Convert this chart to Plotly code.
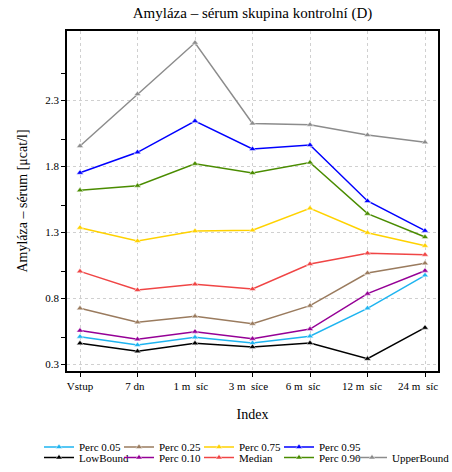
import plotly.graph_objects as go

NB = "\u00a0"
categories = ["Vstup", "7 dn" + NB * 2, "1 m" + NB + " síc" + NB * 3, "3 m" + NB + " síce" + NB * 3,
              "6 m" + NB + " síc" + NB * 5, "12 m" + NB + " síc" + NB * 4, "24 m" + NB + " síc" + NB * 5]
y_tick_vals = [0.3, 0.8, 1.3, 1.8, 2.3]
y_minor_vals = [0.5, 1.0, 1.5, 2.0, 2.5]

perc_005 = [0.507, 0.444, 0.502, 0.459, 0.510, 0.722, 0.972]
low_bound = [0.457, 0.396, 0.457, 0.429, 0.459, 0.340, 0.575]
perc_025 = [0.722, 0.616, 0.661, 0.605, 0.742, 0.989, 1.063]
perc_010 = [0.553, 0.487, 0.545, 0.492, 0.565, 0.833, 1.007]
perc_075 = [1.333, 1.232, 1.308, 1.313, 1.480, 1.295, 1.196]
median = [1.002, 0.861, 0.904, 0.868, 1.058, 1.139, 1.128]
perc_095 = [1.749, 1.904, 2.141, 1.929, 1.959, 1.535, 1.310]
perc_090 = [1.616, 1.651, 1.817, 1.747, 1.827, 1.439, 1.262]
upper_bound = [1.952, 2.345, 2.734, 2.123, 2.113, 2.035, 1.980]

# name, values, colour, legend column, legend row
series = [
    ("Perc 0.05", perc_005, "#1EB4F0", 0, 0),
    ("Perc 0.25", perc_025, "#9A7B5E", 1, 0),
    ("Perc 0.75", perc_075, "#FFD200", 2, 0),
    ("Perc 0.95", perc_095, "#0000FF", 3, 0),
    ("LowBound", low_bound, "#000000", 0, 1),
    ("Perc 0.10", perc_010, "#950096", 1, 1),
    ("Median", median, "#F04545", 2, 1),
    ("Perc 0.90", perc_090, "#4A8C00", 3, 1),
    ("UpperBound", upper_bound, "#8C8C8C", 4, 1),
]

FONT = "Liberation Serif, Times New Roman, serif"

fig = go.Figure()
xs = list(range(len(categories)))
legend_layouts = {}
for i, (name, vals, color, col, row) in enumerate(series):
    key = "legend" if i == 0 else f"legend{i + 1}"
    fig.add_trace(go.Scatter(
        x=xs, y=vals, name=name, mode="lines+markers",
        line=dict(color=color, width=1.5),
        marker=dict(symbol="triangle-up", size=6, color=color,
                    line=dict(color="white", width=0.5)),
        legend=key,
    ))
    left = 39 + 80 * col if col < 4 else 352
    pos = dict(x=left / 452)
    if row == 0:
        pos.update(y=(472 - 447) / 472, yanchor="middle")
    else:
        pos.update(y=0, yanchor="bottom")
    legend_layouts[key] = dict(
        orientation="h", xref="container", yref="container", xanchor="left",
        font=dict(family=FONT, size=11, color="black"), itemwidth=30,
        bgcolor="rgba(0,0,0,0)", borderwidth=0, **pos,
    )

fig.update_layout(
    width=452, height=472,
    margin=dict(l=67, r=14, t=31, b=101, autoexpand=False),
    paper_bgcolor="white", plot_bgcolor="white",
    font=dict(family=FONT, size=11, color="black"),
    title=dict(text="Amyláza – sérum skupina kontrolní (D)", x=0.5, xref="paper",
               y=1 - 13 / 472, yref="container", yanchor="middle",
               font=dict(family=FONT, size=15, color="black")),
    showlegend=True,
    xaxis=dict(
        tickmode="array", tickvals=xs, ticktext=categories,
        range=[-0.226, 6.226], showline=True, linecolor="black", linewidth=1.5,
        mirror=True, ticks="outside", ticklen=4, tickcolor="black",
        showgrid=True, gridcolor="#D0D0D0", griddash="dot", gridwidth=1,
        zeroline=False, tickfont=dict(family=FONT, size=11),
        title=dict(text="Index", font=dict(family=FONT, size=14), standoff=18),
    ),
    yaxis=dict(
        range=[0.247, 2.823], tickmode="array", tickvals=y_tick_vals,
        showline=True, linecolor="black", linewidth=1.5, mirror=True,
        ticks="outside", ticklen=4, tickcolor="black",
        showgrid=True, gridcolor="#D0D0D0", griddash="dot", gridwidth=1,
        zeroline=False, tickfont=dict(family=FONT, size=11),
        minor=dict(tickmode="array", tickvals=y_minor_vals, ticks="outside", ticklen=4,
                   tickcolor="black", showgrid=False),
        title=dict(text="Amyláza – sérum [μcat/l]", font=dict(family=FONT, size=14), standoff=14),
    ),
)
fig.update_layout(**legend_layouts)

fig.write_html("out.html", config={"displayModeBar": False},
               post_script="document.body.style.margin='0px';")
